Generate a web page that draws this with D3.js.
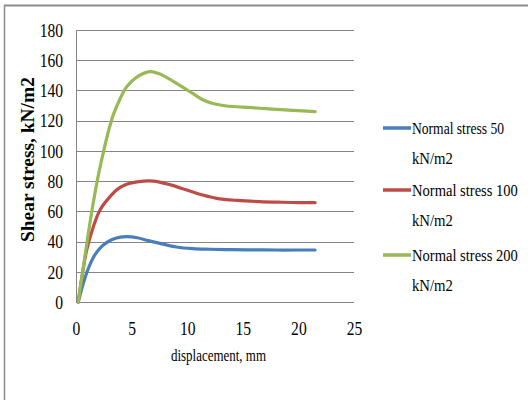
<!DOCTYPE html>
<html><head><meta charset="utf-8">
<script src="https://cdn.jsdelivr.net/npm/d3@7"></script>
<style>body{margin:0;background:#fff}svg{display:block}svg text{font-family:"Liberation Serif","DejaVu Serif","Noto Serif",serif}</style>
</head><body>
<script>
const xTicks = [0,5,10,15,20,25];
const yTicks = [0,20,40,60,80,100,120,140,160,180];
const seriesNames = ["Normal stress 50 kN/m2","Normal stress 100 kN/m2","Normal stress 200 kN/m2"];
const seriesColors = ["#4a7ebb","#be4b48","#98b954"];
const s50 = [[0.2,0],[0.66,12.4],[1.1,22],[1.56,29.5],[2.0,34.3],[2.46,37.7],[3.2,41.2],[4.0,42.9],[4.56,43.2],[5.5,42.5],[6.5,40.6],[7.55,38.8],[9.05,36.4],[10.5,35.3],[12.05,34.9],[14,34.6],[16,34.5],[18,34.4],[20,34.4],[21.5,34.4]];
const s100 = [[0.2,0],[0.5,15],[0.96,34.4],[1.56,49.8],[2.16,60.9],[3.06,69.7],[3.8,75],[4.56,77.9],[5.5,79.5],[6.95,80],[8.5,77.5],[9.95,74.1],[11.3,71],[12.65,68.6],[14.5,67.2],[16.5,66.4],[18.5,66],[20,65.8],[21.5,65.7]];
const s200 = [[0.2,0],[0.66,23],[1.1,45],[1.56,66],[2.0,83.5],[2.46,99],[2.9,112.5],[3.36,124],[4.0,135],[4.56,142.5],[5.5,149],[6.65,152.4],[7.5,151],[8.3,148],[9.05,144.7],[10.5,138],[11.45,133.7],[12.5,131],[13.55,129.7],[15,129],[16.55,128.2],[18,127.5],[19.5,126.8],[21.5,126]];
const seriesData = [s50, s100, s200];

const W = 528, H = 400;
const svg = d3.select("body").append("svg").attr("width", W).attr("height", H);
const sx = 0.82;

// place a text so that its rendered width equals the target width (horizontal squeeze)
function fitText(parent, str, px, py, target, size, rot, weight) {
  const t = parent.append("text").attr("font-size", size).attr("dy","0.35em").text(str);
  if (weight) t.attr("font-weight", weight);
  const natural = t.node().getComputedTextLength() || target;
  const k = target / natural;
  t.attr("transform", `translate(${px},${py})${rot ? " rotate(" + rot + ")" : ""} scale(${k},1)`);
  return t;
}

// outer border (top & left)
svg.append("line").attr("x1",4).attr("x2",W).attr("y1",5.5).attr("y2",5.5).attr("stroke","#8c8c8c").attr("stroke-width",2);
svg.append("line").attr("x1",4.5).attr("x2",4.5).attr("y1",5).attr("y2",H).attr("stroke","#8c8c8c").attr("stroke-width",1.5);

const x = d3.scaleLinear().domain([0,25]).range([76,354]);
const y = d3.scaleLinear().domain([0,180]).range([302,30]);

// gridlines
svg.append("g").selectAll("line").data(yTicks).join("line")
  .attr("x1",x(0)).attr("x2",x(25)).attr("y1",d=>Math.round(y(d))+0.5).attr("y2",d=>Math.round(y(d))+0.5)
  .attr("stroke","#868686").attr("stroke-width",1);
svg.append("line").attr("x1",x(0)+0.5).attr("x2",x(0)+0.5).attr("y1",y(180)).attr("y2",y(0)).attr("stroke","#868686");

// y axis labels
const yAxis = d3.axisLeft(y).tickValues(yTicks).tickSize(0).tickPadding(0);
const gy = svg.append("g").attr("transform",`translate(${x(0)-13},0)`).call(yAxis);
gy.attr("font-family",null);
gy.select(".domain").remove();
gy.selectAll("text").attr("font-size",19).attr("fill","#000").attr("x",0).attr("dy","0.33em")
  .attr("transform",`scale(${sx},1)`);

// x axis labels
const xAxis = d3.axisBottom(x).tickValues(xTicks).tickSize(0).tickPadding(0);
const gx = svg.append("g").attr("transform",`translate(0,${y(0)+27})`).call(xAxis);
gx.attr("font-family",null);
gx.select(".domain").remove();
gx.selectAll("text").attr("font-size",19).attr("fill","#000").attr("y",0).attr("dy","0.33em")
  .attr("transform",`scale(${sx},1)`);

// axis titles
fitText(svg, "displacement, mm", 171, 355, 95, 17);
fitText(svg, "Shear stress, kN/m2", 28, 242, 165, 18, -90, "bold");

// series
const line = d3.line().x(d=>x(d[0])).y(d=>y(d[1])).curve(d3.curveCatmullRom.alpha(0.5));
seriesData.forEach((s,i)=>{
  svg.append("path").datum(s).attr("d",line).attr("fill","none").attr("stroke",seriesColors[i])
    .attr("stroke-width",3.2).attr("stroke-linejoin","round").attr("stroke-linecap","round");
});

// legend
const legY = [128,190,255];
const legW = [92,106,106];
seriesNames.forEach((name,i)=>{
  const g = svg.append("g").attr("transform",`translate(0,${legY[i]})`);
  g.append("line").attr("x1",383).attr("x2",411).attr("y1",0).attr("y2",0).attr("stroke",seriesColors[i]).attr("stroke-width",3.5);
  const parts = name.split(" kN");
  fitText(g, parts[0], 412, 0, legW[i], 17);
  fitText(g, "kN" + parts[1], 412, 30, 41, 17);
});
</script>
</body></html>
